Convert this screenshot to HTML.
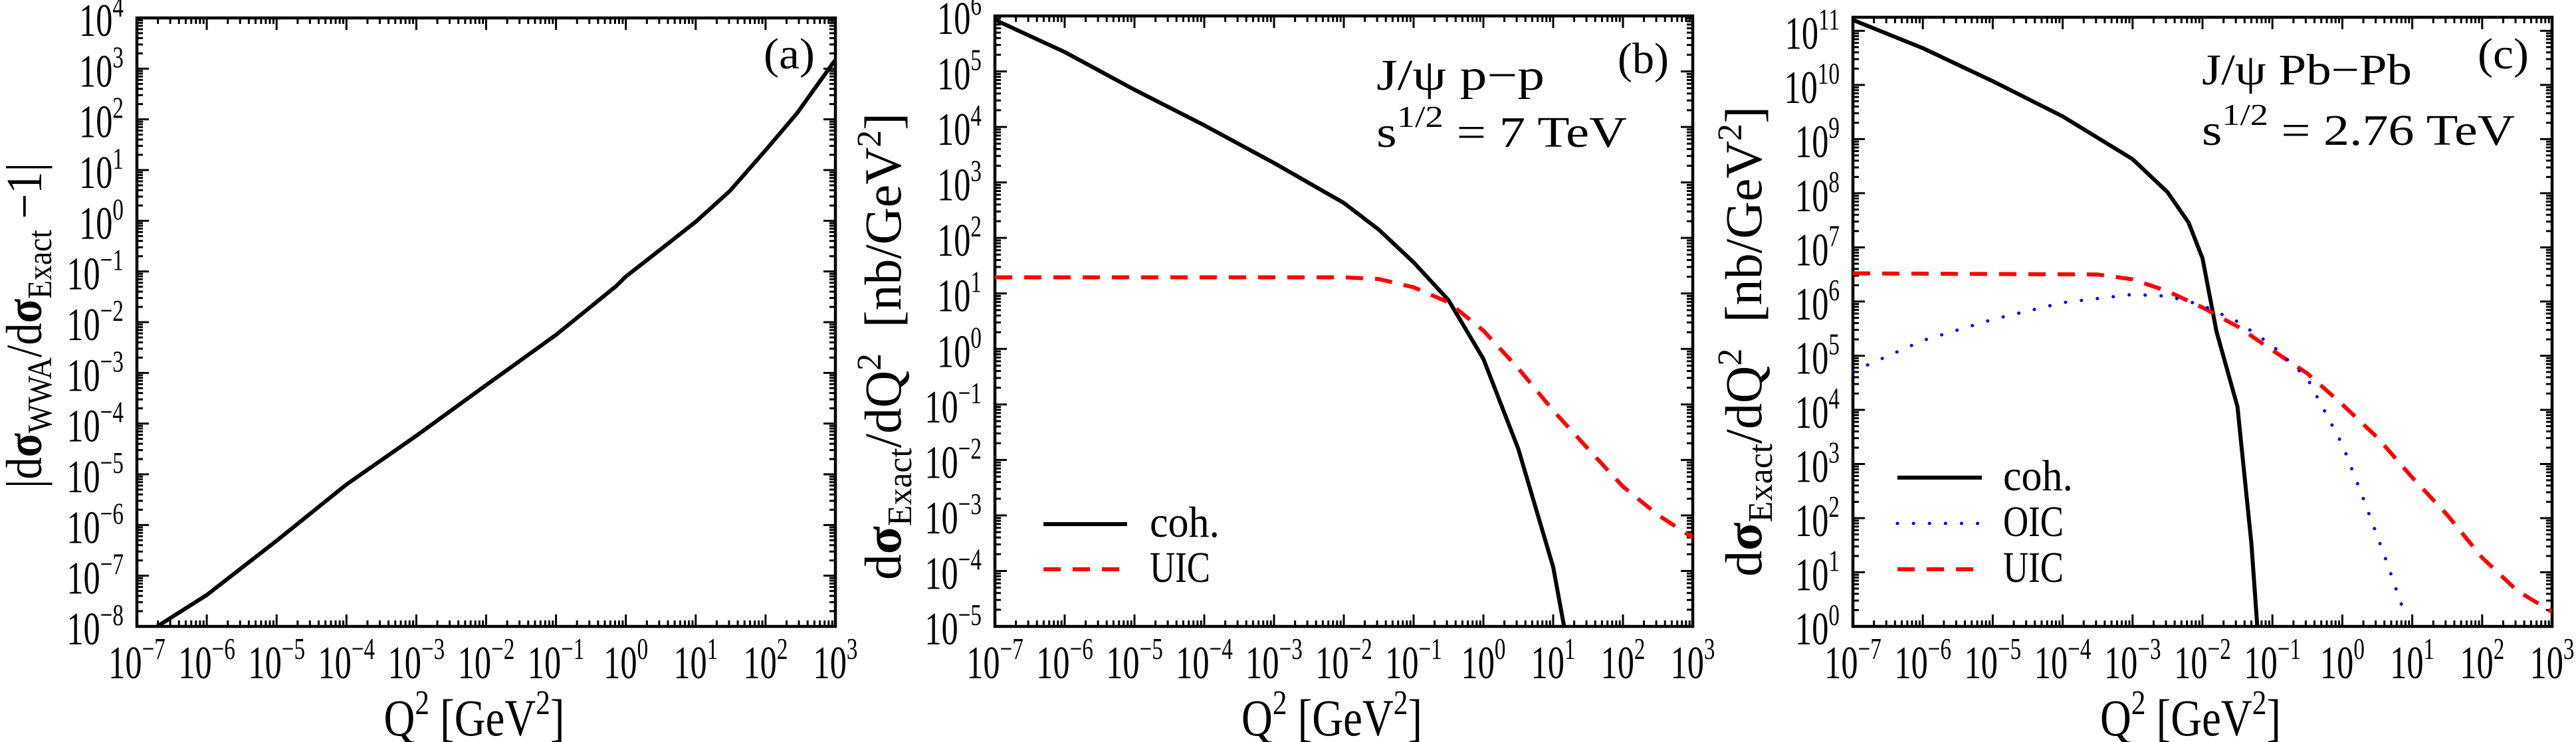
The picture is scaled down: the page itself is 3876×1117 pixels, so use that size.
<!DOCTYPE html>
<html><head><meta charset="utf-8">
<style>
html,body{margin:0;padding:0;background:#fff;}
svg{display:block;}
text{font-family:"Liberation Serif","DejaVu Serif",serif;fill:#000;}
</style></head>
<body>
<svg id="s" width="3876" height="1117" viewBox="0 0 3876 1117" xmlns="http://www.w3.org/2000/svg"></svg>
<script>
const S=document.getElementById('s');
let out='';
function P(L,R,T,B,x0,x1,y0,y1){return {L,R,T,B,x0,x1,y0,y1,
 X:v=>L+(v-x0)/(x1-x0)*(R-L), Y:v=>B-(v-y0)/(y1-y0)*(B-T)};}
function lab(d){return `<tspan>10</tspan><tspan dy="-29" font-size="46">${d<0?'\u2212'+(-d):''+d}</tspan>`;}
function axes(p){
  let s='';
  for(let d=Math.floor(p.x0);d<=Math.ceil(p.x1);d++){
    for(let m=1;m<10;m++){
      const v=d+Math.log10(m); if(v<p.x0-1e-9||v>p.x1+1e-9)continue;
      const x=p.X(v), len=m==1?18:9;
      s+=`<line x1="${x}" y1="${p.B}" x2="${x}" y2="${p.B-len}" stroke="#000" stroke-width="3"/>`;
      s+=`<line x1="${x}" y1="${p.T}" x2="${x}" y2="${p.T+len}" stroke="#000" stroke-width="3"/>`;
    }
  }
  for(let d=Math.floor(p.y0);d<=Math.ceil(p.y1);d++){
    for(let m=1;m<10;m++){
      const v=d+Math.log10(m); if(v<p.y0-1e-9||v>p.y1+1e-9)continue;
      const y=p.Y(v), len=m==1?18:9;
      s+=`<line x1="${p.L}" y1="${y}" x2="${p.L+len}" y2="${y}" stroke="#000" stroke-width="3"/>`;
      s+=`<line x1="${p.R}" y1="${y}" x2="${p.R-len}" y2="${y}" stroke="#000" stroke-width="3"/>`;
    }
  }
  s+=`<rect x="${p.L}" y="${p.T}" width="${p.R-p.L}" height="${p.B-p.T}" fill="none" stroke="#000" stroke-width="4.5"/>`;
  for(let d=Math.ceil(p.x0);d<=p.x1;d++){
    s+=`<g transform="translate(${p.X(d)},1021) scale(0.72,1)"><text text-anchor="middle" font-size="70">${lab(d)}</text></g>`;
  }
  for(let d=Math.ceil(p.y0);d<=p.y1;d++){
    s+=`<g transform="translate(${p.L-20},${p.Y(d)+27}) scale(0.72,1)"><text text-anchor="end" font-size="70">${lab(d)}</text></g>`;
  }
  const cx=(p.L+p.R)/2-18;
  s+=`<text x="${cx-136}" y="1107" font-size="78" textLength="272" lengthAdjust="spacingAndGlyphs">Q<tspan dy="-32" font-size="52">2</tspan><tspan dy="32" xml:space="preserve"> [GeV</tspan><tspan dy="-32" font-size="52">2</tspan><tspan dy="32">]</tspan></text>`;
  return s;
}
function curve(p,pts,attrs){
  const d=pts.map((q,i)=>(i?'L':'M')+p.X(q[0]).toFixed(1)+','+p.Y(q[1]).toFixed(1)).join(' ');
  return `<path d="${d}" fill="none" ${attrs}/>`;
}
function clip(p,n){return `<clipPath id="c${n}"><rect x="${p.L}" y="${p.T}" width="${p.R-p.L}" height="${p.B-p.T}"/></clipPath>`;}
const BL='stroke="#000" stroke-width="6" stroke-linejoin="round"';
const RD='stroke="#f00" stroke-width="6" stroke-dasharray="26,18"';
const BU='stroke="#00f" stroke-width="5" stroke-dasharray="0.1,24" stroke-linecap="round"';
function txt(x,y,len,fs,inner){return `<text x="${x}" y="${y}" font-size="${fs}" textLength="${len}" lengthAdjust="spacingAndGlyphs">${inner}</text>`;}
const YL=`d<tspan font-weight="bold">σ</tspan><tspan font-size="52" dy="16">Exact</tspan><tspan dy="-16">/dQ</tspan><tspan dy="-30" font-size="52">2</tspan><tspan dy="30" xml:space="preserve">  [nb/GeV</tspan><tspan dy="-30" font-size="52">2</tspan><tspan dy="30">]</tspan>`;

// Panel a
const A=P(206,1257,27,943,-7,3,-8,4);
out+=clip(A,1)+axes(A);
out+=`<g clip-path="url(#c1)">`+curve(A,[[-6.71,-8],[-6,-7.38],[-5,-6.31],[-4,-5.2],[-3,-4.24],[-2,-3.24],[-1,-2.25],[-0.14,-1.29],[0,-1.1],[0.4,-0.67],[1,-0.02],[1.49,0.59],[2,1.39],[2.45,2.12],[2.96,3.1],[3.05,3.25]],BL)+`</g>`;
out+=txt(1149,103,77,66,'(a)');
out+=`<g transform="translate(62,735) rotate(-90)">${txt(0,0,490,76,`|d<tspan font-weight="bold">σ</tspan><tspan font-size="52" dy="15">WWA</tspan><tspan dy="-15">/d</tspan><tspan font-weight="bold">σ</tspan><tspan font-size="52" dy="15">Exact</tspan><tspan dy="-15"> \u22121|</tspan>`)}</g>`;

// Panel b
const B=P(1497,2547,24,943,-7,3,-5,6);
out+=clip(B,2)+axes(B);
out+=`<g clip-path="url(#c2)">`+
curve(B,[[-7,5.93],[-6,5.35],[-5,4.67],[-4,4.03],[-3,3.35],[-2,2.63],[-1.5,2.15],[-1,1.56],[-0.5,0.88],[0,-0.18],[0.5,-1.8],[1,-3.93],[1.2,-5.3]],BL)+
curve(B,[[-7,1.29],[-2,1.29],[-1.5,1.26],[-1,1.11],[-0.5,0.84],[0,0.33],[0.5,-0.35],[1,-1.11],[1.5,-1.8],[2,-2.48],[2.5,-2.99],[3,-3.4]],RD)+`</g>`;
out+=txt(2434,110,77,66,'(b)');
out+=txt(2071,135,253,66,'J/ψ  p−p');
out+=txt(2071,221,377,66,`s<tspan dy="-30" font-size="46">1/2</tspan><tspan dy="30" xml:space="preserve"> = 7 TeV</tspan>`);
out+=`<line x1="1570" y1="789" x2="1696" y2="789" ${BL}/>`;
out+=`<line x1="1570" y1="857" x2="1696" y2="857" ${RD}/>`;
out+=txt(1730,808,105,66,'coh.');
out+=txt(1730,876,91,66,'UIC');
out+=`<g transform="translate(1355,873) rotate(-90)">${txt(0,0,703,78,YL)}</g>`;

// Panel c
const C=P(2788,3840,26,943,-7,3,0,11.25);
out+=clip(C,3)+axes(C);
out+=`<g clip-path="url(#c3)">`+
curve(C,[[-7,11.2],[-6,10.68],[-5,10.07],[-4,9.42],[-3,8.63],[-2.5,8.02],[-2.2,7.46],[-2,6.8],[-1.8,5.45],[-1.5,4.06],[-1.3,1.53],[-1.2,-0.3]],BL)+
curve(C,[[-7,6.52],[-3.5,6.5],[-3,6.41],[-2.5,6.19],[-2,5.89],[-1.5,5.54],[-1,5.1],[-0.5,4.67],[0,4.1],[0.5,3.49],[1,2.75],[1.5,2.06],[2,1.27],[2.5,0.66],[3,0.27]],RD)+
curve(C,[[-7,4.71],[-6,5.28],[-5,5.67],[-4,5.98],[-3,6.13],[-2.5,6.1],[-2,5.93],[-1.5,5.63],[-1,5.19],[-0.5,4.58],[0,3.36],[0.3,2.36],[0.6,1.32],[0.9,0.2]],BU)+`</g>`;
out+=txt(3728,103,77,66,'(c)');
out+=txt(3313,127,316,66,'J/ψ  Pb−Pb');
out+=txt(3313,218,471,66,`s<tspan dy="-30" font-size="46">1/2</tspan><tspan dy="30" xml:space="preserve"> = 2.76 TeV</tspan>`);
out+=`<line x1="2855" y1="719" x2="2982" y2="719" ${BL}/>`;
out+=`<line x1="2855" y1="788" x2="2982" y2="788" ${BU}/>`;
out+=`<line x1="2855" y1="857" x2="2982" y2="857" ${RD}/>`;
out+=txt(3014,738,105,66,'coh.');
out+=txt(3014,807,91,66,'OIC');
out+=txt(3014,876,91,66,'UIC');
out+=`<g transform="translate(2650,868) rotate(-90)">${txt(0,0,708,78,YL)}</g>`;

S.innerHTML=out;
</script>
</body></html>
